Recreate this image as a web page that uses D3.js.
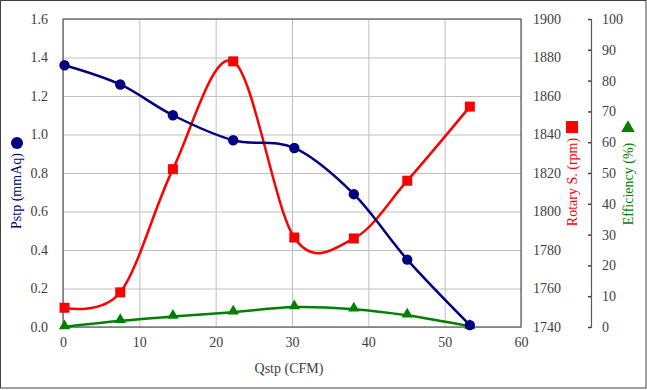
<!DOCTYPE html>
<html>
<head>
<meta charset="utf-8">
<script src="https://cdn.jsdelivr.net/npm/d3@7"></script>
<style>
  body { margin: 0; background: #fff; }
  svg text { font-family: "Liberation Serif", "DejaVu Serif", serif; }
</style>
</head>
<body>
<div id="chart"></div>
<script>
// Values
var qstp = [0.2, 7.5, 14.4, 22.3, 30.3, 38.1, 45.1, 53.3];     // CFM
var pstp = [1.36, 1.26, 1.10, 0.97, 0.93, 0.69, 0.35, 0.01];  // mmAq
var rotary = [1750, 1758, 1822, 1878, 1786.5, 1786, 1816, 1854.5]; // rpm
var efficiency = [0, 2.0, 3.4, 4.8, 6.5, 5.8, 3.8, 0.2];      // %

var xTicks = [0, 10, 20, 30, 40, 50, 60];
var pTicks = [0, 0.2, 0.4, 0.6, 0.8, 1.0, 1.2, 1.4, 1.6];
var rTicks = [1740, 1760, 1780, 1800, 1820, 1840, 1860, 1880, 1900];
var eTicks = [0, 10, 20, 30, 40, 50, 60, 70, 80, 90, 100];

var W = 647, H = 390;
var plotL = 63, plotR = 521, plotT = 19, plotB = 327;
var serif = "Liberation Serif, DejaVu Serif, serif";

var svg = d3.select("#chart").append("svg")
	.attr("width", W).attr("height", H)
	.attr("font-family", serif);

// outer frame
svg.append("rect").attr("x", 0.5).attr("y", 0.5)
	.attr("width", W - 1.5).attr("height", H - 2.5)
	.attr("fill", "#fff").attr("stroke", "#404040").attr("stroke-width", 1);

var x = d3.scaleLinear().domain([0, 60]).range([plotL, plotR]);
var yP = d3.scaleLinear().domain([0, 1.6]).range([plotB, plotT]);
var yR = d3.scaleLinear().domain([1740, 1900]).range([plotB, plotT]);
var yE = d3.scaleLinear().domain([0, 100]).range([plotB, plotT]);

var tickColor = "#404040";

// gridlines
svg.append("g").attr("transform", "translate(" + plotL + ",0)")
	.call(d3.axisLeft(yP).tickValues(pTicks).tickSize(-(plotR - plotL)).tickFormat(""))
	.call(function(g) {
		g.select(".domain").remove();
		g.selectAll("line").attr("stroke", "#c0c0c0");
	});
svg.append("g").attr("transform", "translate(0," + plotB + ")")
	.call(d3.axisBottom(x).tickValues(xTicks).tickSize(-(plotB - plotT)).tickFormat(""))
	.call(function(g) {
		g.select(".domain").remove();
		g.selectAll("line").attr("stroke", "#c0c0c0");
	});

// plot border
svg.append("rect").attr("x", plotL).attr("y", plotT)
	.attr("width", plotR - plotL).attr("height", plotB - plotT)
	.attr("fill", "none").attr("stroke", "#595959").attr("stroke-width", 1.2);

function styleAxis(g) {
	g.attr("font-family", serif).attr("font-size", 14);
	g.selectAll("text").attr("fill", tickColor);
}

// left axis labels
svg.append("g").attr("transform", "translate(" + plotL + ",0)")
	.call(d3.axisLeft(yP).tickValues(pTicks).tickSize(0).tickPadding(15).tickFormat(d3.format(".1f")))
	.call(function(g) { g.select(".domain").remove(); styleAxis(g); });

// bottom axis labels
svg.append("g").attr("transform", "translate(0," + plotB + ")")
	.call(d3.axisBottom(x).tickValues(xTicks).tickSize(0).tickPadding(10))
	.call(function(g) { g.select(".domain").remove(); styleAxis(g); });

// rotary axis labels
svg.append("g").attr("transform", "translate(" + plotR + ",0)")
	.call(d3.axisRight(yR).tickValues(rTicks).tickSize(0).tickPadding(12).tickFormat(d3.format("d")))
	.call(function(g) { g.select(".domain").remove(); styleAxis(g); });

// efficiency axis
svg.append("g").attr("transform", "translate(591,0)")
	.call(d3.axisRight(yE).tickValues(eTicks).tickSizeInner(-3).tickSizeOuter(-3).tickPadding(11))
	.call(function(g) {
		g.select(".domain").attr("stroke", "#595959").attr("stroke-width", 1.2);
		g.selectAll("line").attr("stroke", "#404040").attr("stroke-width", 1.5);
		styleAxis(g);
	});

// series
var curve = d3.curveCardinal.tension(0);
function drawLine(vals, yScale, color) {
	var line = d3.line()
		.x(function(d, i) { return x(qstp[i]); })
		.y(function(d) { return yScale(d); })
		.curve(curve);
	svg.append("path").datum(vals).attr("d", line)
		.attr("fill", "none").attr("stroke", color).attr("stroke-width", 2.5);
}

drawLine(rotary, yR, "#ff0000");
drawLine(efficiency, yE, "#008000");
drawLine(pstp, yP, "#000080");

svg.selectAll("rect.rmark").data(rotary).enter().append("rect")
	.attr("class", "rmark")
	.attr("x", function(d, i) { return x(qstp[i]) - 5; })
	.attr("y", function(d) { return yR(d) - 5; })
	.attr("width", 10).attr("height", 10).attr("fill", "#ff0000");

var tri = d3.symbol().type(d3.symbolTriangle).size(55);
svg.selectAll("path.emark").data(efficiency).enter().append("path")
	.attr("class", "emark")
	.attr("d", tri)
	.attr("transform", function(d, i) { return "translate(" + x(qstp[i]) + "," + (yE(d) - 1) + ")"; })
	.attr("fill", "#008000");

svg.selectAll("circle.pmark").data(pstp).enter().append("circle")
	.attr("class", "pmark")
	.attr("cx", function(d, i) { return x(qstp[i]); })
	.attr("cy", function(d) { return yP(d); })
	.attr("r", 5.2).attr("fill", "#000080");

// axis titles
svg.append("text").attr("x", (plotL + plotR) / 2 - 3).attr("y", 373)
	.attr("text-anchor", "middle").attr("fill", tickColor).attr("font-size", 14)
	.text("Qstp (CFM)");

svg.append("text").attr("transform", "translate(21,191) rotate(-90)")
	.attr("text-anchor", "middle").attr("fill", "#000080").attr("font-size", 14)
	.text("Pstp (mmAq)");
svg.append("circle").attr("cx", 17).attr("cy", 143).attr("r", 6).attr("fill", "#000080");

svg.append("text").attr("transform", "translate(577,182) rotate(-90)")
	.attr("text-anchor", "middle").attr("fill", "#ff0000").attr("font-size", 14)
	.text("Rotary S. (rpm)");
svg.append("rect").attr("x", 566).attr("y", 121).attr("width", 12).attr("height", 12).attr("fill", "#ff0000");

svg.append("text").attr("transform", "translate(633,184) rotate(-90)")
	.attr("text-anchor", "middle").attr("fill", "#008000").attr("font-size", 14)
	.text("Efficiency (%)");
svg.append("path").attr("d", d3.symbol().type(d3.symbolTriangle).size(80))
	.attr("transform", "translate(628,128)").attr("fill", "#008000");
</script>
</body>
</html>
